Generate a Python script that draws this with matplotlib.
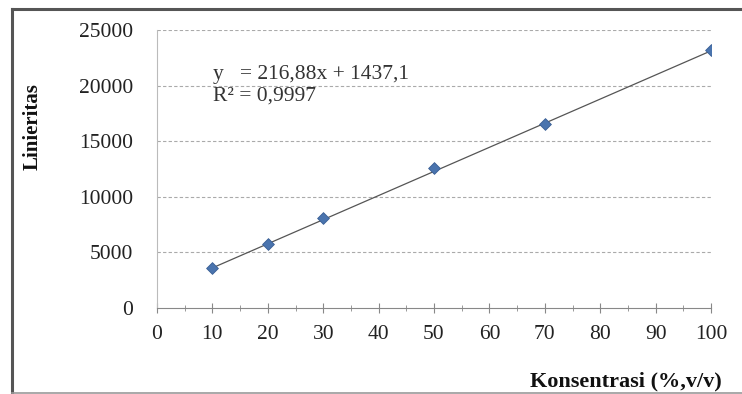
import matplotlib
matplotlib.use("Agg")
import matplotlib.pyplot as plt
from matplotlib.lines import Line2D
from matplotlib.ticker import MultipleLocator
import numpy as np

# Data
konsentrasi = [10, 20, 30, 50, 70, 100]
linieritas = [3600, 5750, 8050, 12550, 16550, 23200]
slope = 216.88
intercept = 1437.1
equation_text = "y   = 216,88x + 1437,1"
r2_text = "R² = 0,9997"
x_ticks = [0, 10, 20, 30, 40, 50, 60, 70, 80, 90, 100]
y_ticks = [0, 5000, 10000, 15000, 20000, 25000]

plt.rcParams['font.family'] = ['Liberation Serif', 'DejaVu Serif']

fig = plt.figure(figsize=(7.42, 3.94), dpi=100)
ax = fig.add_axes([157/742, 1-308/394, (711-157)/742, (308-30)/394])

# Figure border (left, top, bottom)
bc = '#555555'
x0, y0, y1 = 12/742, 1-392.5/394, 1-8.5/394
fig.lines.append(Line2D([x0, x0], [y0, y1], transform=fig.transFigure, color=bc, linewidth=2.2))
fig.lines.append(Line2D([x0, 1.01], [y1, y1], transform=fig.transFigure, color=bc, linewidth=2.2))
fig.lines.append(Line2D([x0, 1.01], [y0, y0], transform=fig.transFigure, color='#999999', linewidth=1.2))

xs = np.array([min(konsentrasi), max(konsentrasi)])
ax.plot(xs, slope*xs + intercept, color='#555555', linewidth=0.9, zorder=2)
ax.scatter(konsentrasi, linieritas, marker='D', s=36, color='#4A74AE',
           edgecolor='#3A5F95', linewidth=0.6, zorder=3)

ax.set_xlim(0, 100)
ax.set_ylim(0, 25000)
ax.set_xticks(x_ticks)
ax.set_yticks(y_ticks)
ax.xaxis.set_minor_locator(MultipleLocator(5))

for y in y_ticks[1:]:
    ax.axhline(y, color='#AAAAAA', linestyle=(0, (3, 2)), linewidth=0.8, zorder=1)

for s in ['top', 'right']:
    ax.spines[s].set_visible(False)
ax.spines['left'].set_color('#BBBBBB')
ax.spines['bottom'].set_color('#888888')

ax.tick_params(axis='y', length=0, pad=17, labelsize=15.5, labelcolor='#222222')
ax.tick_params(axis='x', which='major', direction='inout', length=7, color='#888888',
               pad=9, labelsize=15.5, labelcolor='#222222')
ax.tick_params(axis='x', which='minor', direction='inout', length=4, color='#888888')

fig.text(33/742, 1-127/394, "Linieritas", rotation=90, fontsize=15, fontweight='bold',
         ha='center', va='center', color='#111111')
fig.text(530/742, 1-381/394, "Konsentrasi (%,v/v)", fontsize=16, fontweight='bold',
         ha='left', va='center', color='#111111')

fig.text(213/742, 1-75/394, equation_text, fontsize=15.5,
         ha='left', va='center', color='#333333')
fig.text(213/742, 1-96/394, r2_text, fontsize=15.5,
         ha='left', va='center', color='#333333')

fig.savefig("out.png", dpi=100)
